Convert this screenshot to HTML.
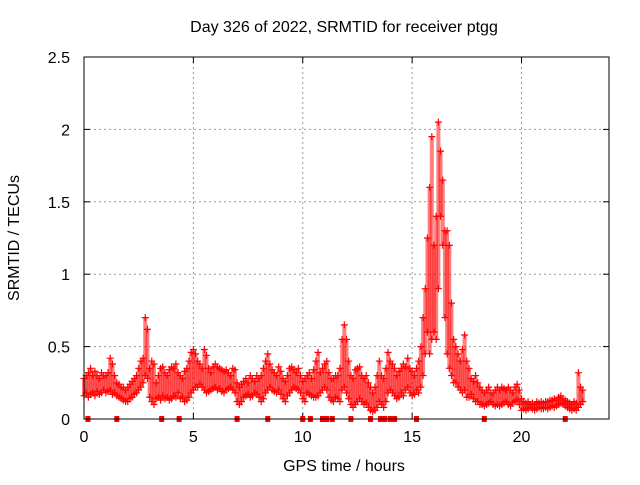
<!DOCTYPE html>
<html><head><meta charset="utf-8"><style>
body{margin:0;background:#fff}
svg text{font-family:"Liberation Sans",sans-serif;font-size:16px;fill:#000}
</style></head><body>
<svg id="chart" width="640" height="480" viewBox="0 0 640 480">
<rect width="640" height="480" fill="#fff"/>
<text x="344" y="32" text-anchor="middle">Day 326 of 2022, SRMTID for receiver ptgg</text>
<text transform="translate(19,238) rotate(-90)" text-anchor="middle">SRMTID / TECUs</text>
<text x="344" y="471" text-anchor="middle">GPS time / hours</text>
<g id="grid"></g>
<g id="ticks"></g>
<g id="marks"></g>
<rect x="84" y="57" width="525" height="362" fill="none" stroke="#000" stroke-width="1"/>
</svg>
<script>
const xTicks=[0,5,10,15,20];
const yTicks=[0,0.5,1,1.5,2,2.5];
const yTickLabels=["0","0.5","1","1.5","2","2.5"];
const tStart=0, tStep=0.1;
const loVals=[0.16,0.18,0.15,0.17,0.18,0.16,0.19,0.17,0.18,0.20,
0.18,0.19,0.20,0.17,0.18,0.16,0.15,0.14,0.13,0.12,
0.12,0.14,0.15,0.17,0.18,0.20,0.22,0.25,0.30,0.28,
0.15,0.12,0.10,0.14,0.15,0.13,0.16,0.14,0.15,0.13,
0.14,0.16,0.15,0.18,0.14,0.15,0.12,0.13,0.15,0.18,
0.20,0.22,0.22,0.24,0.22,0.20,0.18,0.19,0.20,0.21,
0.22,0.20,0.21,0.19,0.18,0.20,0.21,0.22,0.20,0.18,
0.12,0.10,0.12,0.15,0.16,0.17,0.15,0.16,0.18,0.17,
0.15,0.12,0.14,0.18,0.20,0.22,0.20,0.19,0.18,0.20,
0.17,0.14,0.12,0.16,0.18,0.20,0.22,0.21,0.20,0.18,
0.14,0.12,0.18,0.17,0.16,0.15,0.15,0.16,0.18,0.20,
0.22,0.20,0.15,0.13,0.12,0.15,0.14,0.12,0.20,0.22,
0.18,0.14,0.10,0.08,0.10,0.12,0.14,0.12,0.10,0.11,
0.08,0.06,0.05,0.06,0.08,0.12,0.10,0.08,0.12,0.18,
0.20,0.18,0.16,0.14,0.15,0.18,0.16,0.20,0.22,0.18,
0.16,0.17,0.20,0.18,0.22,0.30,0.45,0.60,0.45,0.55,
0.60,0.55,0.90,1.40,1.20,0.70,0.45,0.35,0.30,0.25,
0.25,0.22,0.20,0.18,0.20,0.15,0.15,0.17,0.14,0.12,
0.12,0.10,0.10,0.09,0.10,0.11,0.12,0.10,0.09,0.10,
0.09,0.10,0.11,0.12,0.10,0.09,0.11,0.12,0.13,0.10,
0.06,0.07,0.06,0.07,0.08,0.07,0.06,0.07,0.08,0.07,
0.07,0.08,0.07,0.08,0.09,0.08,0.09,0.10,0.11,0.10,
0.09,0.08,0.07,0.06,0.07,0.06,0.08,0.10,0.12];
const hiVals=[0.28,0.30,0.32,0.35,0.30,0.33,0.30,0.28,0.32,0.30,
0.30,0.32,0.42,0.38,0.30,0.25,0.24,0.22,0.22,0.20,
0.22,0.24,0.26,0.28,0.30,0.35,0.40,0.42,0.70,0.62,
0.35,0.40,0.38,0.25,0.30,0.35,0.36,0.32,0.30,0.34,
0.36,0.35,0.38,0.32,0.30,0.28,0.33,0.35,0.40,0.46,
0.48,0.45,0.40,0.38,0.35,0.48,0.44,0.35,0.32,0.36,
0.38,0.36,0.35,0.34,0.33,0.34,0.32,0.30,0.35,0.34,
0.25,0.22,0.24,0.26,0.28,0.25,0.30,0.28,0.26,0.30,
0.28,0.30,0.35,0.40,0.45,0.38,0.34,0.32,0.30,0.36,
0.33,0.28,0.26,0.30,0.35,0.36,0.34,0.32,0.35,0.30,
0.26,0.28,0.30,0.32,0.28,0.34,0.40,0.46,0.32,0.35,
0.38,0.40,0.32,0.28,0.28,0.30,0.30,0.35,0.55,0.65,
0.55,0.40,0.30,0.28,0.34,0.35,0.36,0.30,0.28,0.30,
0.25,0.22,0.18,0.22,0.30,0.40,0.30,0.28,0.35,0.46,
0.40,0.38,0.35,0.30,0.33,0.35,0.38,0.36,0.42,0.35,
0.33,0.30,0.35,0.40,0.50,0.70,0.90,1.25,1.60,1.95,
1.20,1.40,2.05,1.85,1.65,1.30,1.30,1.20,0.80,0.55,
0.50,0.45,0.40,0.48,0.58,0.40,0.35,0.28,0.26,0.30,
0.25,0.22,0.20,0.18,0.20,0.22,0.18,0.18,0.20,0.22,
0.20,0.22,0.21,0.20,0.22,0.20,0.18,0.22,0.24,0.20,
0.14,0.12,0.11,0.12,0.10,0.11,0.10,0.12,0.11,0.12,
0.11,0.12,0.12,0.13,0.13,0.14,0.13,0.15,0.16,0.14,
0.13,0.12,0.11,0.10,0.12,0.11,0.32,0.22,0.20];
const zeroTimes=[0.18,1.5,3.55,4.35,7.0,8.4,10.0,10.35,10.9,11.1,11.35,12.2,13.1,13.55,13.75,14.0,14.2,15.2,18.3,22.0];
const X0=84,X1=609,Y0=419,Y1=57,XMAX=24,YMAX=2.5;
const xs=v=>X0+(X1-X0)*v/XMAX;
const ys=v=>Y0-(Y0-Y1)*v/YMAX;
const NS="http://www.w3.org/2000/svg";
const grid=document.getElementById('grid'),ticks=document.getElementById('ticks'),marks=document.getElementById('marks');
function mk(tag,attrs,parent){const e=document.createElementNS(NS,tag);for(const k in attrs)e.setAttribute(k,attrs[k]);parent.appendChild(e);return e;}
xTicks.forEach(v=>{const x=xs(v);
 if(v>0){const g=mk('line',{x1:x,x2:x,y1:Y0,y2:Y1,stroke:'#999','stroke-dasharray':'2,3'},grid);
 
 }
 mk('line',{x1:x,x2:x,y1:Y0,y2:Y0-6,stroke:'#000'},ticks);mk('line',{x1:x,x2:x,y1:Y1,y2:Y1+6,stroke:'#000'},ticks);
 const t=mk('text',{x:x,y:Y0+23,'text-anchor':'middle'},ticks);t.textContent=String(v);
 
 });
yTicks.forEach((v,i)=>{const y=ys(v);
 if(v>0&&v<YMAX){const g=mk('line',{x1:X0,x2:X1,y1:y,y2:y,stroke:'#999','stroke-dasharray':'2,3'},grid);
 
 }
 mk('line',{x1:X0,x2:X0+6,y1:y,y2:y,stroke:'#000'},ticks);mk('line',{x1:X1,x2:X1-6,y1:y,y2:y,stroke:'#000'},ticks);
 const t=mk('text',{x:X0-14,y:y+6,'text-anchor':'end'},ticks);t.textContent=yTickLabels[i];
 
 });
function plus(x,y){const p=mk('path',{d:`M${x-3.5},${y}h7M${x},${y-3.5}v7`,stroke:'#f00','stroke-width':1.2,fill:'none'},marks);
 
 }
loVals.forEach((lo,i)=>{const t=tStart+i*tStep,hi=hiVals[i],x=xs(t);
 const r=mk('line',{x1:x,x2:x,y1:ys(lo),y2:ys(hi),stroke:'#f00','stroke-width':4,opacity:0.5},marks);
 
 
 plus(x,ys(lo));plus(x,ys(hi));});
zeroTimes.forEach(t=>{const r=mk('rect',{x:xs(t)-2.5,y:Y0-3,width:5,height:6,fill:'#f00'},marks);
 
 });
</script>
</body></html>
